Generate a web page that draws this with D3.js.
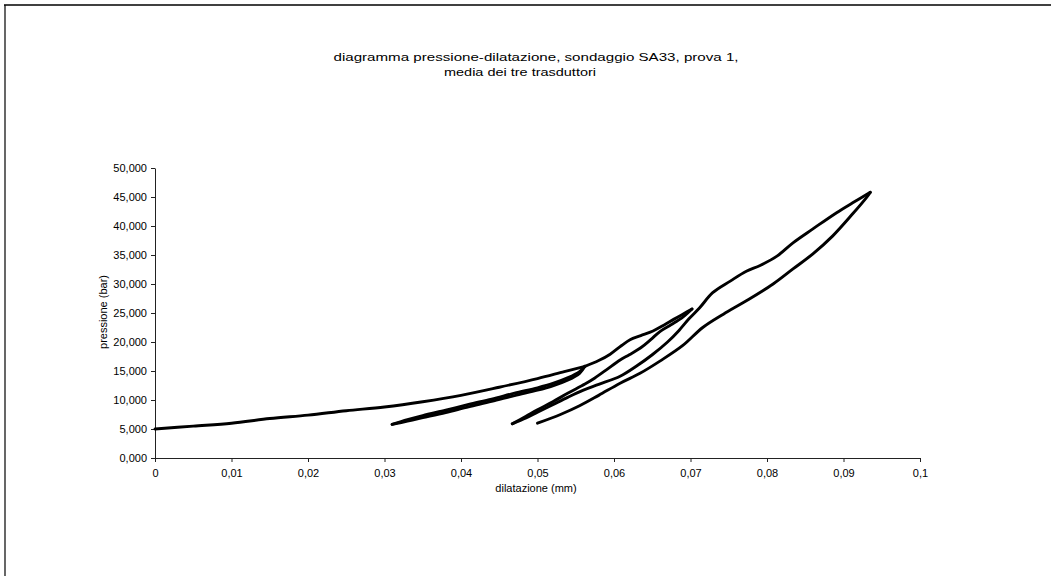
<!DOCTYPE html>
<html>
<head>
<meta charset="utf-8">
<script src="https://cdn.jsdelivr.net/npm/d3@7"></script>
<style>
  body { margin: 0; background: #fff; }
  svg { display: block; font-family: "Liberation Sans", Arial, sans-serif; }
</style>
</head>
<body>
<svg width="1051" height="576"></svg>
<script>
// x tick values (mm) and y tick values (bar)
const xTicks = [0, 0.01, 0.02, 0.03, 0.04, 0.05, 0.06, 0.07, 0.08, 0.09, 0.1];
const yTicks = [0, 5, 10, 15, 20, 25, 30, 35, 40, 45, 50];

// branches of the pressure-dilatation curve [dilatazione mm, pressione bar]
const loading1 = [[0,5.0],[0.005,5.5],[0.01,6.0],[0.015,6.8],[0.02,7.4],[0.025,8.15],[0.03,8.8],[0.035,9.7],[0.04,10.8],[0.045,12.2],[0.05,13.7],[0.0535,14.9],[0.0562,15.8]];
const unload1 = [[0.0562,15.8],[0.0555,14.6],[0.054,13.45],[0.052,12.45],[0.05,11.7],[0.047,10.77],[0.044,9.75],[0.041,8.83],[0.038,7.85],[0.035,6.95],[0.033,6.35],[0.031,5.8]];
const reload1 = [[0.031,5.8],[0.033,6.6],[0.035,7.3],[0.038,8.25],[0.041,9.23],[0.044,10.15],[0.047,11.17],[0.05,12.1],[0.052,12.85],[0.054,13.85],[0.0555,14.9],[0.0562,15.8]];
const loading2 = [[0.0562,15.8],[0.058,16.8],[0.0595,17.9],[0.061,19.4],[0.0621,20.4],[0.0635,21.1],[0.0651,21.9],[0.0665,22.9],[0.0678,23.9],[0.069,24.8],[0.0702,25.7]];
const unload2 = [[0.0702,25.7],[0.069,24.3],[0.0675,23.0],[0.066,21.8],[0.0648,20.4],[0.0635,19.0],[0.062,17.8],[0.0608,16.9],[0.059,15.2],[0.0575,13.8],[0.0562,12.75],[0.054,11.2],[0.052,9.7],[0.05,8.3],[0.0485,7.2],[0.0467,5.9]];
const reload2 = [[0.0467,5.9],[0.0485,6.9],[0.05,7.9],[0.052,9.2],[0.054,10.5],[0.056,11.7],[0.058,12.7],[0.0608,14.1],[0.063,15.9],[0.065,17.8],[0.067,20.0],[0.0685,22.0],[0.0698,24.0],[0.0712,25.9],[0.0729,28.5],[0.0752,30.5],[0.0773,32.2],[0.0791,33.2],[0.0813,34.8],[0.0834,37.1],[0.086,39.5],[0.0891,42.3],[0.0912,44.0],[0.0935,45.8]];
const unload3 = [[0.0935,45.8],[0.093,44.9],[0.0912,42.1],[0.0886,38.3],[0.086,35.2],[0.0834,32.6],[0.0808,30.0],[0.0773,27.1],[0.0743,24.8],[0.0716,22.5],[0.069,19.4],[0.066,16.7],[0.0634,14.6],[0.0608,12.9],[0.058,10.8],[0.0555,9.0],[0.053,7.5],[0.05,6.0]];

const branches = [loading1, unload1, reload1, loading2, unload2, reload2, unload3];

const plot = {left: 155, right: 920, top: 168, bottom: 458};

const svg = d3.select("svg");

// frame of the scanned page
svg.append("line").attr("x1", 4).attr("x2", 1051).attr("y1", 5).attr("y2", 5)
  .attr("stroke", "#000").attr("stroke-width", 1.5);
svg.append("line").attr("x1", 5).attr("x2", 5).attr("y1", 5).attr("y2", 576)
  .attr("stroke", "#000").attr("stroke-width", 1.2);

const x = d3.scaleLinear().domain([0, 0.1]).range([plot.left, plot.right]);
const y = d3.scaleLinear().domain([0, 50]).range([plot.bottom, plot.top]);

const it = d3.formatLocale({decimal: ",", thousands: ".", grouping: [3], currency: ["", ""]});
const fx = it.format("~g");
const fy = it.format(".3f");

svg.append("g")
  .attr("transform", "translate(0," + plot.bottom + ")")
  .call(d3.axisBottom(x).tickValues(xTicks).tickFormat(fx).tickSize(4).tickSizeOuter(0).tickPadding(7));

svg.append("g")
  .attr("transform", "translate(" + plot.left + ",0)")
  .call(d3.axisLeft(y).tickValues(yTicks).tickFormat(fy).tickSize(4).tickSizeOuter(0).tickPadding(4));

svg.selectAll(".domain, .tick line").attr("stroke", "#222");
svg.selectAll(".tick text").attr("font-size", 11).attr("fill", "#000")
  .attr("font-family", "'Liberation Sans', Arial, sans-serif");

const line = d3.line()
  .x(d => x(d[0]))
  .y(d => y(d[1]))
  .curve(d3.curveCatmullRom.alpha(0.5));

svg.append("g").selectAll("path")
  .data(branches)
  .join("path")
  .attr("d", line)
  .attr("fill", "none")
  .attr("stroke", "#000")
  .attr("stroke-width", 2.9)
  .attr("stroke-linejoin", "round")
  .attr("stroke-linecap", "round");

// titles
svg.append("text").attr("x", 536).attr("y", 61).attr("text-anchor", "middle")
  .attr("font-size", 11).attr("textLength", 405).attr("lengthAdjust", "spacingAndGlyphs")
  .text("diagramma pressione-dilatazione, sondaggio SA33, prova 1,");
svg.append("text").attr("x", 520).attr("y", 76).attr("text-anchor", "middle")
  .attr("font-size", 11).attr("textLength", 152).attr("lengthAdjust", "spacingAndGlyphs")
  .text("media dei tre trasduttori");

svg.append("text").attr("x", 536).attr("y", 492).attr("text-anchor", "middle")
  .attr("font-size", 11).text("dilatazione (mm)");

svg.append("text").attr("transform", "translate(107,312) rotate(-90)")
  .attr("text-anchor", "middle").attr("font-size", 11).text("pressione (bar)");
</script>
</body>
</html>
